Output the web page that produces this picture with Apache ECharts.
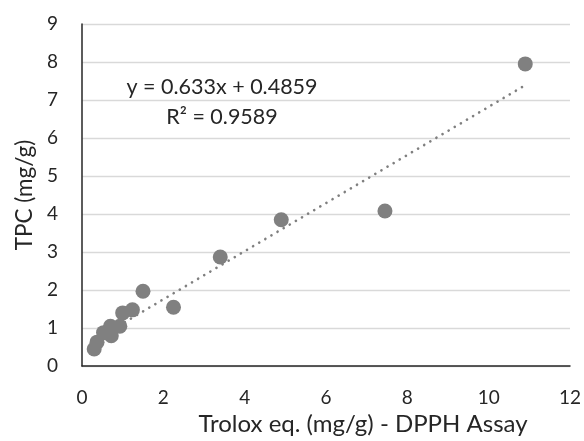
<!DOCTYPE html>
<html>
<head>
<meta charset="utf-8">
<script src="https://cdn.jsdelivr.net/npm/echarts@6/dist/echarts.min.js"></script>
<style>html,body{margin:0;padding:0;background:#fff;}#c{width:584px;height:441px;}</style>
</head>
<body>
<div id="c"></div>
<script>
// Data
var dpphX = [0.30, 0.37, 0.53, 0.70, 0.72, 0.93, 1.00, 1.24, 1.50, 2.25, 3.40, 4.90, 7.45, 10.90];
var tpcY  = [0.45, 0.63, 0.88, 1.05, 0.80, 1.05, 1.40, 1.48, 1.97, 1.55, 2.87, 3.85, 4.08, 7.95];
var trendX = [0.30, 10.90];
var trendY = [0.68, 7.39];
var equationText = 'y = 0.633x + 0.4859';
var r2Text = 'R² = 0.9589';
var xTitle = 'Trolox eq. (mg/g) - DPPH Assay';
var yTitle = 'TPC (mg/g)';

var pts = dpphX.map(function(x, i){ return [x, tpcY[i]]; });
var trend = trendX.map(function(x, i){ return [x, trendY[i]]; });

var FONT = 'Lato';
var chart = echarts.init(document.getElementById('c'), null, {renderer:'canvas'});
chart.setOption({
  animation: false,
  backgroundColor: '#fff',
  grid: {left: 82, right: 12, top: 24, bottom: 72},
  xAxis: {
    type: 'value', min: 0, max: 12, interval: 2,
    name: xTitle, nameLocation: 'middle', nameGap: 42,
    nameTextStyle: {fontFamily: FONT, fontSize: 24, color: '#262626', padding: [0, 0, 0, 74]},
    axisLine: {show: true, onZero: false, lineStyle: {color: '#262626', width: 1.5}},
    axisTick: {show: false},
    splitLine: {show: false},
    axisLabel: {fontFamily: FONT, fontSize: 19, color: '#262626', margin: 22}
  },
  yAxis: {
    type: 'value', min: 0, max: 9, interval: 1,
    name: yTitle, nameLocation: 'middle', nameGap: 46,
    nameTextStyle: {fontFamily: FONT, fontSize: 22.5, color: '#262626'},
    axisLine: {show: true, onZero: false, lineStyle: {color: '#262626', width: 1.5}},
    axisTick: {show: false},
    splitLine: {show: true, lineStyle: {color: '#d9d9d9', width: 1.3}},
    axisLabel: {fontFamily: FONT, fontSize: 19, color: '#262626', margin: 24}
  },
  series: [
    {
      type: 'line', data: trend, symbol: 'none', z: 1,
      lineStyle: {color: '#7f7f7f', width: 2.6, type: [0.1, 7], cap: 'round'}
    },
    {
      type: 'scatter', data: pts, symbol: 'circle', symbolSize: 15, z: 2,
      itemStyle: {color: '#808080', opacity: 1}
    }
  ],
  graphic: [
    {type: 'text', x: 222, y: 87, style: {text: equationText, fontFamily: FONT, fontSize: 21.5, fill: '#262626', align: 'center', verticalAlign: 'middle'}},
    {type: 'text', x: 222, y: 117, style: {text: r2Text, fontFamily: FONT, fontSize: 21.5, fill: '#262626', align: 'center', verticalAlign: 'middle'}}
  ]
});
</script>
</body>
</html>
